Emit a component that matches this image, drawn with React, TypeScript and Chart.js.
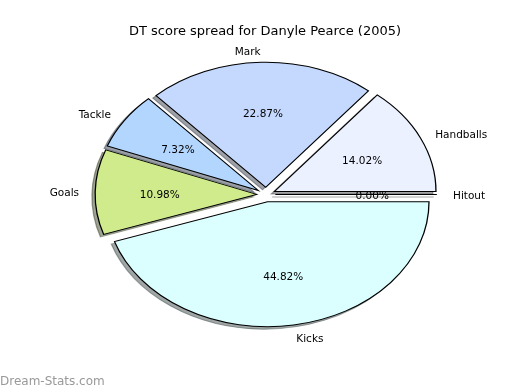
import React, { useEffect, useRef } from 'react';
import { Chart, registerables } from 'chart.js';

Chart.register(...registerables);

const TITLE = 'DT score spread for Danyle Pearce (2005)';
const WATERMARK = 'Dream-Stats.com';
// matplotlib order (counter-clockwise from 3 o'clock)
const categories = ['Handballs', 'Mark', 'Tackle', 'Goals', 'Kicks', 'Hitout'];
const scores = [138, 225, 72, 108, 441, 0];
const colors = ['#EBF1FF', '#C5D9FF', '#B3D6FF', '#D0EB8B', '#DBFFFF', '#FFE0E0'];

function hexToRgb(h: string) {
  const n = parseInt(h.slice(1), 16);
  return { r: (n >> 16) & 255, g: (n >> 8) & 255, b: n & 255 };
}

export default function App() {
  const ref = useRef<HTMLCanvasElement>(null);

  useEffect(() => {
    if (!ref.current) return;
    // Chart.js draws clockwise, matplotlib counter-clockwise: reverse the order
    const order = categories.map((_, i) => i).reverse();
    const labels = order.map((i) => categories[i]);
    const data = order.map((i) => scores[i]);
    const bg = order.map((i) => colors[i]);
    const total = scores.reduce((a, b) => a + b, 0);

    const SX = 1.292; // horizontal stretch (non-equal aspect)
    const EXP = 0.058; // explode fraction of radius
    const SH_X = -3.2;
    const SH_Y = 2.5;
    const TY = 2; // text vertical nudge
    const FONT = '"DejaVu Sans", sans-serif';

    const plugin = {
      id: 'mplPie',
      beforeDatasetsDraw(chart: any) {
        const ctx: CanvasRenderingContext2D = chart.ctx;
        const arcs: any[] = chart.getDatasetMeta(0).data;
        if (!arcs.length) return false;
        const cx = arcs[0].x;
        const cy = arcs[0].y;
        const R = arcs[0].outerRadius;
        const d = EXP * R;
        ctx.save();
        ctx.translate(cx, cy);
        ctx.scale(SX, 1);
        ctx.translate(-cx, -cy);
        // shadows (below all wedges)
        arcs.forEach((arc, k) => {
          const mid = (arc.startAngle + arc.endAngle) / 2;
          const c = hexToRgb(bg[k]);
          const col = `rgba(${Math.round(0.3 * c.r)},${Math.round(0.3 * c.g)},${Math.round(0.3 * c.b)},0.5)`;
          ctx.save();
          ctx.translate(d * Math.cos(mid) + SH_X / SX, d * Math.sin(mid) + SH_Y);
          ctx.beginPath();
          ctx.moveTo(arc.x, arc.y);
          ctx.arc(arc.x, arc.y, arc.outerRadius, arc.startAngle, arc.endAngle);
          ctx.closePath();
          ctx.fillStyle = col;
          ctx.fill();
          ctx.strokeStyle = col;
          ctx.lineWidth = 1;
          ctx.stroke();
          ctx.restore();
        });
        // wedges
        arcs.forEach((arc) => {
          const mid = (arc.startAngle + arc.endAngle) / 2;
          ctx.save();
          ctx.translate(d * Math.cos(mid), d * Math.sin(mid));
          if (arc.endAngle - arc.startAngle > 0) {
            arc.draw(ctx);
          } else {
            ctx.beginPath();
            ctx.moveTo(arc.x, arc.y);
            ctx.lineTo(arc.x + arc.outerRadius * Math.cos(arc.startAngle), arc.y + arc.outerRadius * Math.sin(arc.startAngle));
            ctx.strokeStyle = '#000';
            ctx.lineWidth = 1;
            ctx.stroke();
          }
          ctx.restore();
        });
        ctx.restore();
        return false;
      },
      afterDraw(chart: any) {
        const ctx: CanvasRenderingContext2D = chart.ctx;
        const arcs: any[] = chart.getDatasetMeta(0).data;
        if (!arcs.length) return;
        const cx = arcs[0].x;
        const cy = arcs[0].y;
        ctx.save();
        ctx.fillStyle = '#000';
        ctx.textBaseline = 'middle';
        arcs.forEach((arc, k) => {
          const R = arc.outerRadius;
          const mid = (arc.startAngle + arc.endAngle) / 2;
          const c = Math.cos(mid);
          const s = Math.sin(mid);
          // label
          const lx = cx + SX * R * (EXP + 1.1) * c;
          const ly = cy + R * (EXP + 1.1) * s + TY;
          ctx.font = `10.5px ${FONT}`;
          ctx.textAlign = c * (EXP + 1.1) >= 0 ? 'left' : 'right';
          ctx.fillText(labels[k], lx, ly);
          // percentage
          const px = cx + SX * R * (EXP + 0.6) * c;
          const py = cy + R * (EXP + 0.6) * s + TY;
          ctx.textAlign = 'center';
          ctx.fillText(((data[k] / total) * 100).toFixed(2) + '%', px, py);
        });
        ctx.font = `13px ${FONT}`;
        ctx.textAlign = 'center';
        ctx.fillText(TITLE, 265, 30 + TY);
        ctx.font = `12px ${FONT}`;
        ctx.fillStyle = '#999999';
        ctx.textAlign = 'left';
        ctx.textBaseline = 'alphabetic';
        ctx.fillText(WATERMARK, 0, 385);
        ctx.restore();
      },
    };

    const chart = new Chart(ref.current, {
      type: 'pie',
      data: {
        labels,
        datasets: [
          {
            data,
            backgroundColor: bg,
            borderColor: '#000000',
            borderWidth: 1,
            borderJoinStyle: 'miter',
            offset: 0,
          } as any,
        ],
      },
      options: {
        responsive: false,
        animation: false,
        events: [],
        rotation: 90,
        radius: 125,
        layout: { padding: { left: 12, right: 0, top: 0, bottom: 1 } },
        plugins: {
          legend: { display: false },
          tooltip: { enabled: false },
          title: { display: false },
        },
      } as any,
      plugins: [plugin as any],
    });
    return () => chart.destroy();
  }, []);

  return (
    <div style={{ position: 'fixed', left: 0, top: 0, width: 520, height: 390, background: '#fff' }}>
      <canvas ref={ref} width={520} height={390} style={{ display: 'block' }} />
    </div>
  );
}
